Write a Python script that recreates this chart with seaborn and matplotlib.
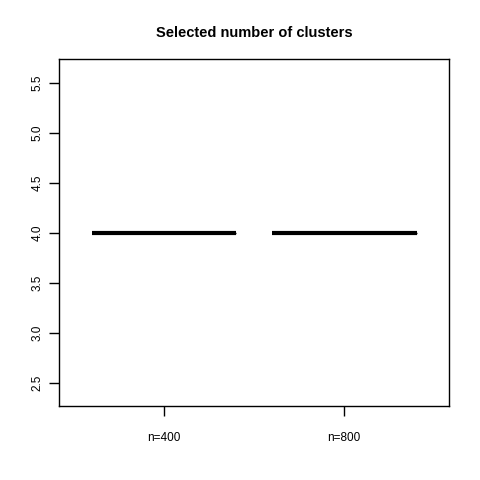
import pandas as pd
import matplotlib
matplotlib.use("Agg")
import matplotlib.pyplot as plt
import seaborn as sns

# =======================
# Data: selected number of clusters per sample size
# =======================
groups = ["n=400", "n=800"]
clusters_n400 = [4, 4, 4, 4, 4, 4, 4, 4, 4, 4]
clusters_n800 = [4, 4, 4, 4, 4, 4, 4, 4, 4, 4]
y_ticks = [2.5, 3.0, 3.5, 4.0, 4.5, 5.0, 5.5]

df = pd.DataFrame({
    "group": [groups[0]] * len(clusters_n400) + [groups[1]] * len(clusters_n800),
    "k": clusters_n400 + clusters_n800,
})

sns.set_style("white")
plt.rcParams['font.family'] = ['Liberation Sans', 'DejaVu Sans']
plt.rcParams['text.color'] = 'black'

fig = plt.figure(figsize=(4.8, 4.8), dpi=100)
ax = fig.add_axes([59 / 480, 74 / 480, 390 / 480, 347 / 480])

sns.boxplot(
    data=df, x="group", y="k", order=groups, ax=ax,
    width=0.8, color="white", linecolor="black", linewidth=1,
    medianprops={"linewidth": 3, "color": "black", "solid_capstyle": "butt"},
    showfliers=False,
)

ax.set_xlim(-0.58, 1.58)
ax.set_ylim(2.265, 5.735)
ax.set_yticks(y_ticks)
ax.set_yticklabels([f"{v:.1f}" for v in y_ticks], rotation=90, va="center")
ax.set_xlabel("")
ax.set_ylabel("")
ax.set_title("Selected number of clusters", fontweight="bold", fontsize=10.5,
             pad=16, color="black")

for s in ax.spines.values():
    s.set_visible(True)
    s.set_color("black")
    s.set_linewidth(1)
ax.tick_params(axis="both", direction="out", length=7, width=1, colors="black",
               labelsize=8.5, pad=4, left=True, bottom=True)
ax.tick_params(axis="x", pad=12)

fig.savefig("out.png", dpi=100)
